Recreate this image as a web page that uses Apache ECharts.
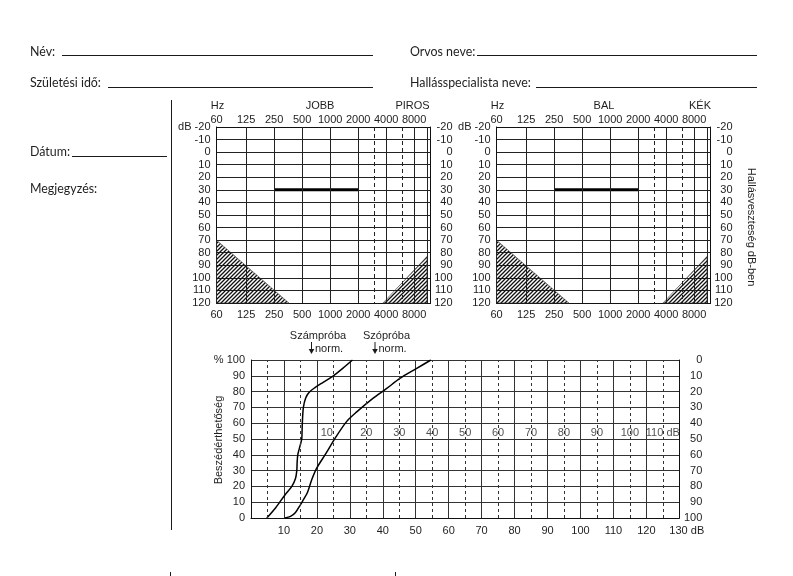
<!DOCTYPE html>
<html><head><meta charset="utf-8">
<script src="https://cdn.jsdelivr.net/npm/echarts@6/dist/echarts.min.js"></script>
<style>html,body{margin:0;padding:0;background:#fff}#c{width:793px;height:576px}</style>
</head><body><div id="c"></div>
<script>
// ---------- Audiogram data ----------
const freqTicks = [60, 125, 250, 500, 1000, 2000, 4000, 8000];
const freqSolidLines = [125, 250, 500, 1000, 2000, 4000, 8000, 11000];
const freqDashedLines = [3000, 6000];
const freqMin = 60, freqMax = 12000;
const dbMin = -20, dbMax = 120, dbStep = 10;
const normalLine = [[250, 30], [2000, 30]];
const hatchLow = [[60, 70], [360, 120], [60, 120]];
const hatchHigh = [[3700, 120], [11000, 83], [11000, 120]];

// ---------- Speech audiogram data ----------
const speechDbMax = 130, speechStep = 10;
const speechDashed = [5, 15, 25, 35, 45, 55, 65, 75, 85, 95, 105, 115, 125];
const numbersTest = [[4.8,0],[7.5,6.5],[10.3,14.6],[12.4,20],[13.5,25],[13.9,30],[14,35],[14.2,40],[14.8,45],[15.4,50],[15.5,55],[15.6,61],[15.9,70],[16.6,76],[17.6,79.5],[19.4,82.5],[22,86],[25,90],[28,95],[30.8,100]];
const wordsTest = [[10.3,0],[12,1],[13.5,3.5],[14.9,8],[16,12],[17.1,16],[18.4,24],[19.9,31.4],[22.8,41],[25.5,50.4],[29,61],[32,67],[37,75.7],[41.2,82],[45.2,88.4],[50.3,94.7],[54.6,100]];
const innerLabelPos = [23, 35, 45, 55, 65, 75, 85, 95, 105, 115, 125];
const innerLabelText = ['10','20','30','40','50','60','70','80','90','100','110 dB'];
const innerLabelLevel = 50;

const AF = "'Liberation Sans', Arial, sans-serif";
const FF = "Lato, 'Open Sans', sans-serif";
const TXT = '#1e1e1e';
const LINE = '#222';

const lx = f => Math.log2(f / freqMin);

// hatch pattern
const pc = document.createElement('canvas');
pc.width = 4; pc.height = 4;
const pctx = pc.getContext('2d');
pctx.strokeStyle = '#111'; pctx.lineWidth = 1.3;
pctx.beginPath();
pctx.moveTo(0, 4); pctx.lineTo(4, 0);
pctx.moveTo(-1, 1); pctx.lineTo(1, -1);
pctx.moveTo(3, 5); pctx.lineTo(5, 3);
pctx.stroke();
const hatchPattern = { image: pc, repeat: 'repeat' };

const fmtFreq = v => {
  const i = freqTicks.findIndex(f => Math.abs(lx(f) - v) < 1e-6);
  return i >= 0 ? String(freqTicks[i]) : '';
};

function audX(gi, pos) {
  return {
    type: 'value', gridIndex: gi, position: pos, min: 0, max: lx(freqMax),
    axisLine: { show: true, onZero: false, lineStyle: { color: '#111', width: 1 } },
    axisTick: { show: false }, splitLine: { show: false },
    axisLabel: { customValues: freqTicks.map(lx), formatter: fmtFreq, margin: pos === 'top' ? 2 : 6,
      color: TXT, fontSize: 11, fontFamily: AF }
  };
}
function audY(gi, pos) {
  const left = pos === 'left';
  return {
    type: 'value', gridIndex: gi, position: pos, inverse: true, min: dbMin, max: dbMax, interval: dbStep,
    axisLine: { show: true, onZero: false, lineStyle: { color: '#111', width: 1 } },
    axisTick: { show: false },
    splitLine: { show: left, lineStyle: { color: LINE, width: 1 } },
    axisLabel: { margin: left ? 6 : 22, align: 'right', color: TXT, fontSize: 11, fontFamily: AF,
      formatter: v => (left && v === dbMin) ? 'dB ' + v : String(v) }
  };
}
function vLines(xi, yi) {
  return {
    type: 'line', xAxisIndex: xi, yAxisIndex: yi, data: [], silent: true,
    markLine: {
      silent: true, symbol: ['none', 'none'], label: { show: false }, animation: false,
      lineStyle: { color: LINE, width: 1, type: 'solid' },
      data: freqSolidLines.map(f => ({ xAxis: lx(f) }))
        .concat(freqDashedLines.map(f => ({ xAxis: lx(f), lineStyle: { type: [4, 3], color: LINE, width: 1 } })))
    }
  };
}
function hatch(xi, yi, pts) {
  return {
    type: 'custom', xAxisIndex: xi, yAxisIndex: yi, data: [0], silent: true,
    renderItem: (params, api) => ({
      type: 'polygon',
      shape: { points: pts.map(p => api.coord([lx(p[0]), p[1]])) },
      style: { fill: hatchPattern, stroke: '#333', lineWidth: 0.6 }
    })
  };
}
function thick(xi, yi) {
  return {
    type: 'line', xAxisIndex: xi, yAxisIndex: yi, silent: true, symbol: 'none',
    lineStyle: { color: '#000', width: 3 },
    data: normalLine.map(p => [lx(p[0]), p[1]])
  };
}

const option = {
  animation: false,
  backgroundColor: '#fff',
  grid: [
    { left: 216.5, top: 127, width: 214, height: 176 },
    { left: 496.5, top: 127, width: 214, height: 176 },
    { left: 251, top: 360, width: 428.3, height: 158 }
  ],
  xAxis: [
    audX(0, 'bottom'), audX(0, 'top'), audX(1, 'bottom'), audX(1, 'top'),
    {
      type: 'value', gridIndex: 2, min: 0, max: speechDbMax, interval: speechStep,
      axisLine: { show: true, onZero: false, lineStyle: { color: '#111' } },
      axisTick: { show: false },
      splitLine: { show: true, lineStyle: { color: '#333', width: 1 } },
      axisLabel: { margin: 7, color: TXT, fontSize: 11, fontFamily: AF,
        formatter: v => v === 0 ? '' : (v === speechDbMax ? '{a|' + v + ' dB}' : String(v)),
        rich: { a: { fontSize: 11, fontFamily: AF, color: TXT, padding: [0, 0, 0, 15] } } }
    }
  ],
  yAxis: [
    audY(0, 'left'), audY(0, 'right'), audY(1, 'left'), audY(1, 'right'),
    {
      type: 'value', gridIndex: 2, min: 0, max: 100, interval: 10,
      axisLine: { show: true, onZero: false, lineStyle: { color: '#111' } },
      axisTick: { show: false },
      splitLine: { show: true, lineStyle: { color: '#333', width: 1 } },
      axisLabel: { margin: 6, color: TXT, fontSize: 11, fontFamily: AF,
        formatter: v => v === 100 ? '% 100' : String(v) }
    },
    {
      type: 'value', gridIndex: 2, position: 'right', min: 0, max: 100, interval: 10,
      axisLine: { show: true, onZero: false, lineStyle: { color: '#111' } },
      axisTick: { show: false }, splitLine: { show: false },
      axisLabel: { margin: 23, align: 'right', color: TXT, fontSize: 11, fontFamily: AF,
        formatter: v => String(100 - v) }
    }
  ],
  series: [
    vLines(0, 0), hatch(0, 0, hatchLow), hatch(0, 0, hatchHigh), thick(0, 0),
    vLines(2, 2), hatch(2, 2, hatchLow), hatch(2, 2, hatchHigh), thick(2, 2),
    {
      type: 'line', xAxisIndex: 4, yAxisIndex: 4, data: [], silent: true,
      markLine: { silent: true, symbol: ['none', 'none'], label: { show: false }, animation: false,
        lineStyle: { color: '#333', width: 1, type: [3, 3] },
        data: speechDashed.map(v => ({ xAxis: v })) }
    },
    {
      type: 'line', xAxisIndex: 4, yAxisIndex: 4, data: numbersTest, smooth: 0.3, symbol: 'none',
      lineStyle: { color: '#000', width: 1.5 }, silent: true
    },
    {
      type: 'line', xAxisIndex: 4, yAxisIndex: 4, data: wordsTest, smooth: 0.3, symbol: 'none',
      lineStyle: { color: '#000', width: 1.5 }, silent: true
    },
    {
      type: 'scatter', xAxisIndex: 4, yAxisIndex: 4, symbolSize: 0, silent: true,
      data: innerLabelPos.map((x, i) => ({ value: [x, innerLabelLevel], name: innerLabelText[i] })),
      label: { show: true, position: 'top', distance: 1, formatter: p => p.name,
        color: TXT, fontSize: 11, fontFamily: AF }
    }
  ],
  graphic: []
};

function txt(x, y, text, opts) {
  opts = opts || {};
  const align = opts.align || 'left';
  return {
    type: 'text', x: x, y: y, rotation: opts.rotation || 0, silent: true,
    style: { text: text, font: (opts.size || 11) + 'px ' + (opts.family || AF), fill: opts.color || TXT,
      textAlign: align, align: align, textVerticalAlign: 'middle', verticalAlign: 'middle' }
  };
}
function ln(x1, y1, x2, y2, w) {
  return { type: 'line', silent: true, shape: { x1: x1, y1: y1, x2: x2, y2: y2 },
    style: { stroke: '#1a1a1a', lineWidth: w || 1 } };
}
function arrow(x, y1, y2) {
  return [ln(x, y1, x, y2 - 4, 1),
    { type: 'polygon', silent: true, shape: { points: [[x - 2.8, y2 - 5], [x + 2.8, y2 - 5], [x, y2]] },
      style: { fill: '#1a1a1a' } }];
}

const FS = 12.4;
option.graphic = [
  // form fields
  txt(30, 51.5, 'Név:', { size: FS, family: FF }), ln(62, 55.5, 373, 55.5),
  txt(30, 83, 'Születési idő:', { size: FS, family: FF }), ln(108, 87.5, 373, 87.5),
  txt(410, 51.5, 'Orvos neve:', { size: FS, family: FF }), ln(477, 55.5, 757, 55.5),
  txt(410, 83, 'Hallásspecialista neve:', { size: FS, family: FF }), ln(536, 87.5, 757, 87.5),
  txt(30, 151.5, 'Dátum:', { size: FS, family: FF }), ln(72, 156.5, 167, 156.5),
  txt(30, 189, 'Megjegyzés:', { size: FS, family: FF }),
  ln(171.5, 100, 171.5, 530),
  ln(170.5, 572, 170.5, 576), ln(395.5, 572, 395.5, 576),
  // audiogram headers
  txt(217.5, 106, 'Hz', { align: 'center' }),
  txt(320, 106, 'JOBB', { align: 'center' }),
  txt(412.5, 106, 'PIROS', { align: 'center' }),
  txt(497.5, 106, 'Hz', { align: 'center' }),
  txt(604, 106, 'BAL', { align: 'center' }),
  txt(700, 106, 'KÉK', { align: 'center' }),
  txt(751, 227, 'Hallásveszteség dB-ben', { align: 'center', rotation: -Math.PI / 2 }),
  // speech annotations
  txt(318, 336, 'Számpróba', { align: 'center' }),
  txt(315, 348.5, 'norm.'),
  txt(386.5, 336, 'Szópróba', { align: 'center' }),
  txt(378.5, 348.5, 'norm.'),
  txt(219, 440, 'Beszédérthetőség', { align: 'center', rotation: Math.PI / 2 })
].concat(arrow(311.5, 342, 354), arrow(375, 342, 354));

const chart = echarts.init(document.getElementById('c'), null, { renderer: 'canvas', width: 793, height: 576 });
chart.setOption(option);
</script></body></html>
